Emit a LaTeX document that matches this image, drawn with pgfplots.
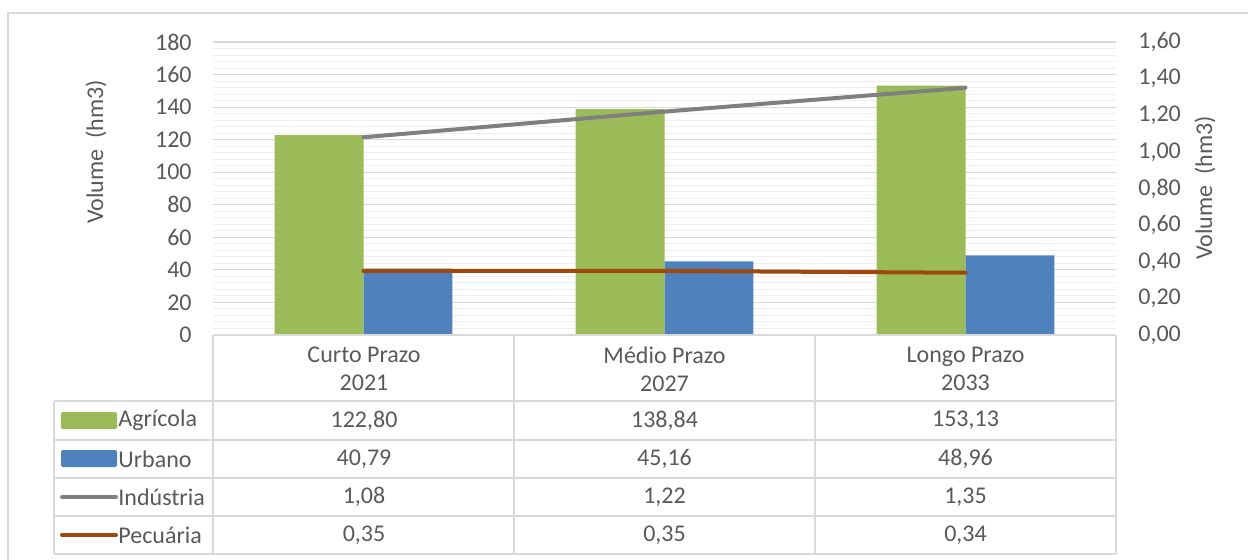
\documentclass[border=0pt]{standalone}
\usepackage{pgfplots}
\pgfplotsset{compat=1.18}
\usepackage{fontspec}
\setmainfont{Carlito}
\definecolor{agri}{HTML}{9BBB59}
\definecolor{urb}{HTML}{4F81BD}
\definecolor{ind}{HTML}{7F7F7F}
\definecolor{pec}{HTML}{9E480E}
\definecolor{txt}{HTML}{595959}
\definecolor{gmaj}{HTML}{D9D9D9}
\definecolor{gmin}{HTML}{EFEFEF}
\definecolor{tab}{HTML}{D9D9D9}
\begin{document}
\begin{tikzpicture}
\path[use as bounding box, clip] (0pt,0pt) rectangle (624pt,-279.5pt);
\pgfplotsset{
  common/.style={
    at={(106.5pt,-167.5pt)}, anchor=south west, scale only axis,
    width=451.5pt, height=146.5pt, xmin=-0.5, xmax=2.5,
    axis line style={draw=none}, xtick=\empty,
    major tick length=0pt, minor tick length=0pt,
    tick label style={font=\fontsize{12}{14}\selectfont, text=txt},
    /pgf/number format/assume math mode=true,
  }
}
\begin{axis}[common,
  ymin=0, ymax=180, ytick={0,20,40,60,80,100,120,140,160,180},
  minor y tick num=4, ymajorgrids, yminorgrids,
  major grid style={gmaj, line width=0.6pt},
  minor grid style={gmin, line width=0.5pt},
  yticklabel style={anchor=east, inner sep=0pt, xshift=-10.5pt},
  ybar=0pt, bar width=0.295,
]
\addplot[fill=agri, draw=none] coordinates {(0,122.80) (1,138.84) (2,153.13)};
\addplot[fill=urb, draw=none] coordinates {(0,40.79) (1,45.16) (2,48.96)};
\end{axis}
\begin{axis}[common,
  ymin=0, ymax=1.6, ytick={0,0.2,0.4,0.6,0.8,1.0,1.2,1.4,1.6},
  axis y line*=right, axis x line=none,
  yticklabel style={anchor=west, inner sep=0pt, xshift=11pt,
    /pgf/number format/.cd, fixed, fixed zerofill, precision=2, use comma},
]
\addplot[ind, line width=2pt, line cap=round] coordinates {(0,1.08) (1,1.22) (2,1.35)};
\addplot[pec, line width=2pt, line cap=round] coordinates {(0,0.35) (1,0.35) (2,0.34)};
\end{axis}
\begin{scope}[x=0.5pt,y=-0.5pt, every node/.style={font=\fontsize{12}{14}\selectfont, text=txt}]
% border
\draw[gmaj, line width=1pt] (8,700) -- (8,13) -- (1400,13);
% table grid
\draw[tab, line width=0.6pt] (213,335) -- (1116,335);
\foreach \yy in {401,440,478,516,554} \draw[tab, line width=0.6pt] (54,\yy) -- (1116,\yy);
\draw[tab, line width=0.6pt] (54,401) -- (54,554);
\foreach \xx in {213,514,815,1116} \draw[tab, line width=0.6pt] (\xx,335) -- (\xx,554);
% headers
\node[align=center] at (364,369) {Curto Prazo\\2021};
\node[align=center] at (664.5,369) {Médio Prazo\\2027};
\node[align=center] at (965.5,369) {Longo Prazo\\2033};
% row labels
\fill[agri, rounded corners=1pt] (61,412) rectangle (117,429);
\fill[urb, rounded corners=1pt] (61,450) rectangle (117,467);
\draw[ind, line width=2pt, line cap=round] (62,497) -- (116,497);
\draw[pec, line width=2pt, line cap=round] (62,535) -- (116,535);
\node[anchor=west, inner sep=0pt] at (118,420.5) {Agrícola};
\node[anchor=west, inner sep=0pt] at (118,459) {Urbano};
\node[anchor=west, inner sep=0pt] at (118,497) {Indústria};
\node[anchor=west, inner sep=0pt] at (118,535) {Pecuária};
% values
\node at (364,420.5) {122,80}; \node at (664.5,420.5) {138,84}; \node at (965.5,420.5) {153,13};
\node at (364,459) {40,79}; \node at (664.5,459) {45,16}; \node at (965.5,459) {48,96};
\node at (364,497) {1,08}; \node at (664.5,497) {1,22}; \node at (965.5,497) {1,35};
\node at (364,535) {0,35}; \node at (664.5,535) {0,35}; \node at (965.5,535) {0,34};
% axis titles
\node[rotate=90] at (96,152) {Volume\ \ (hm3)};
\node[rotate=90] at (1205,188) {Volume\ \ (hm3)};
\end{scope}
\end{tikzpicture}
\end{document}
